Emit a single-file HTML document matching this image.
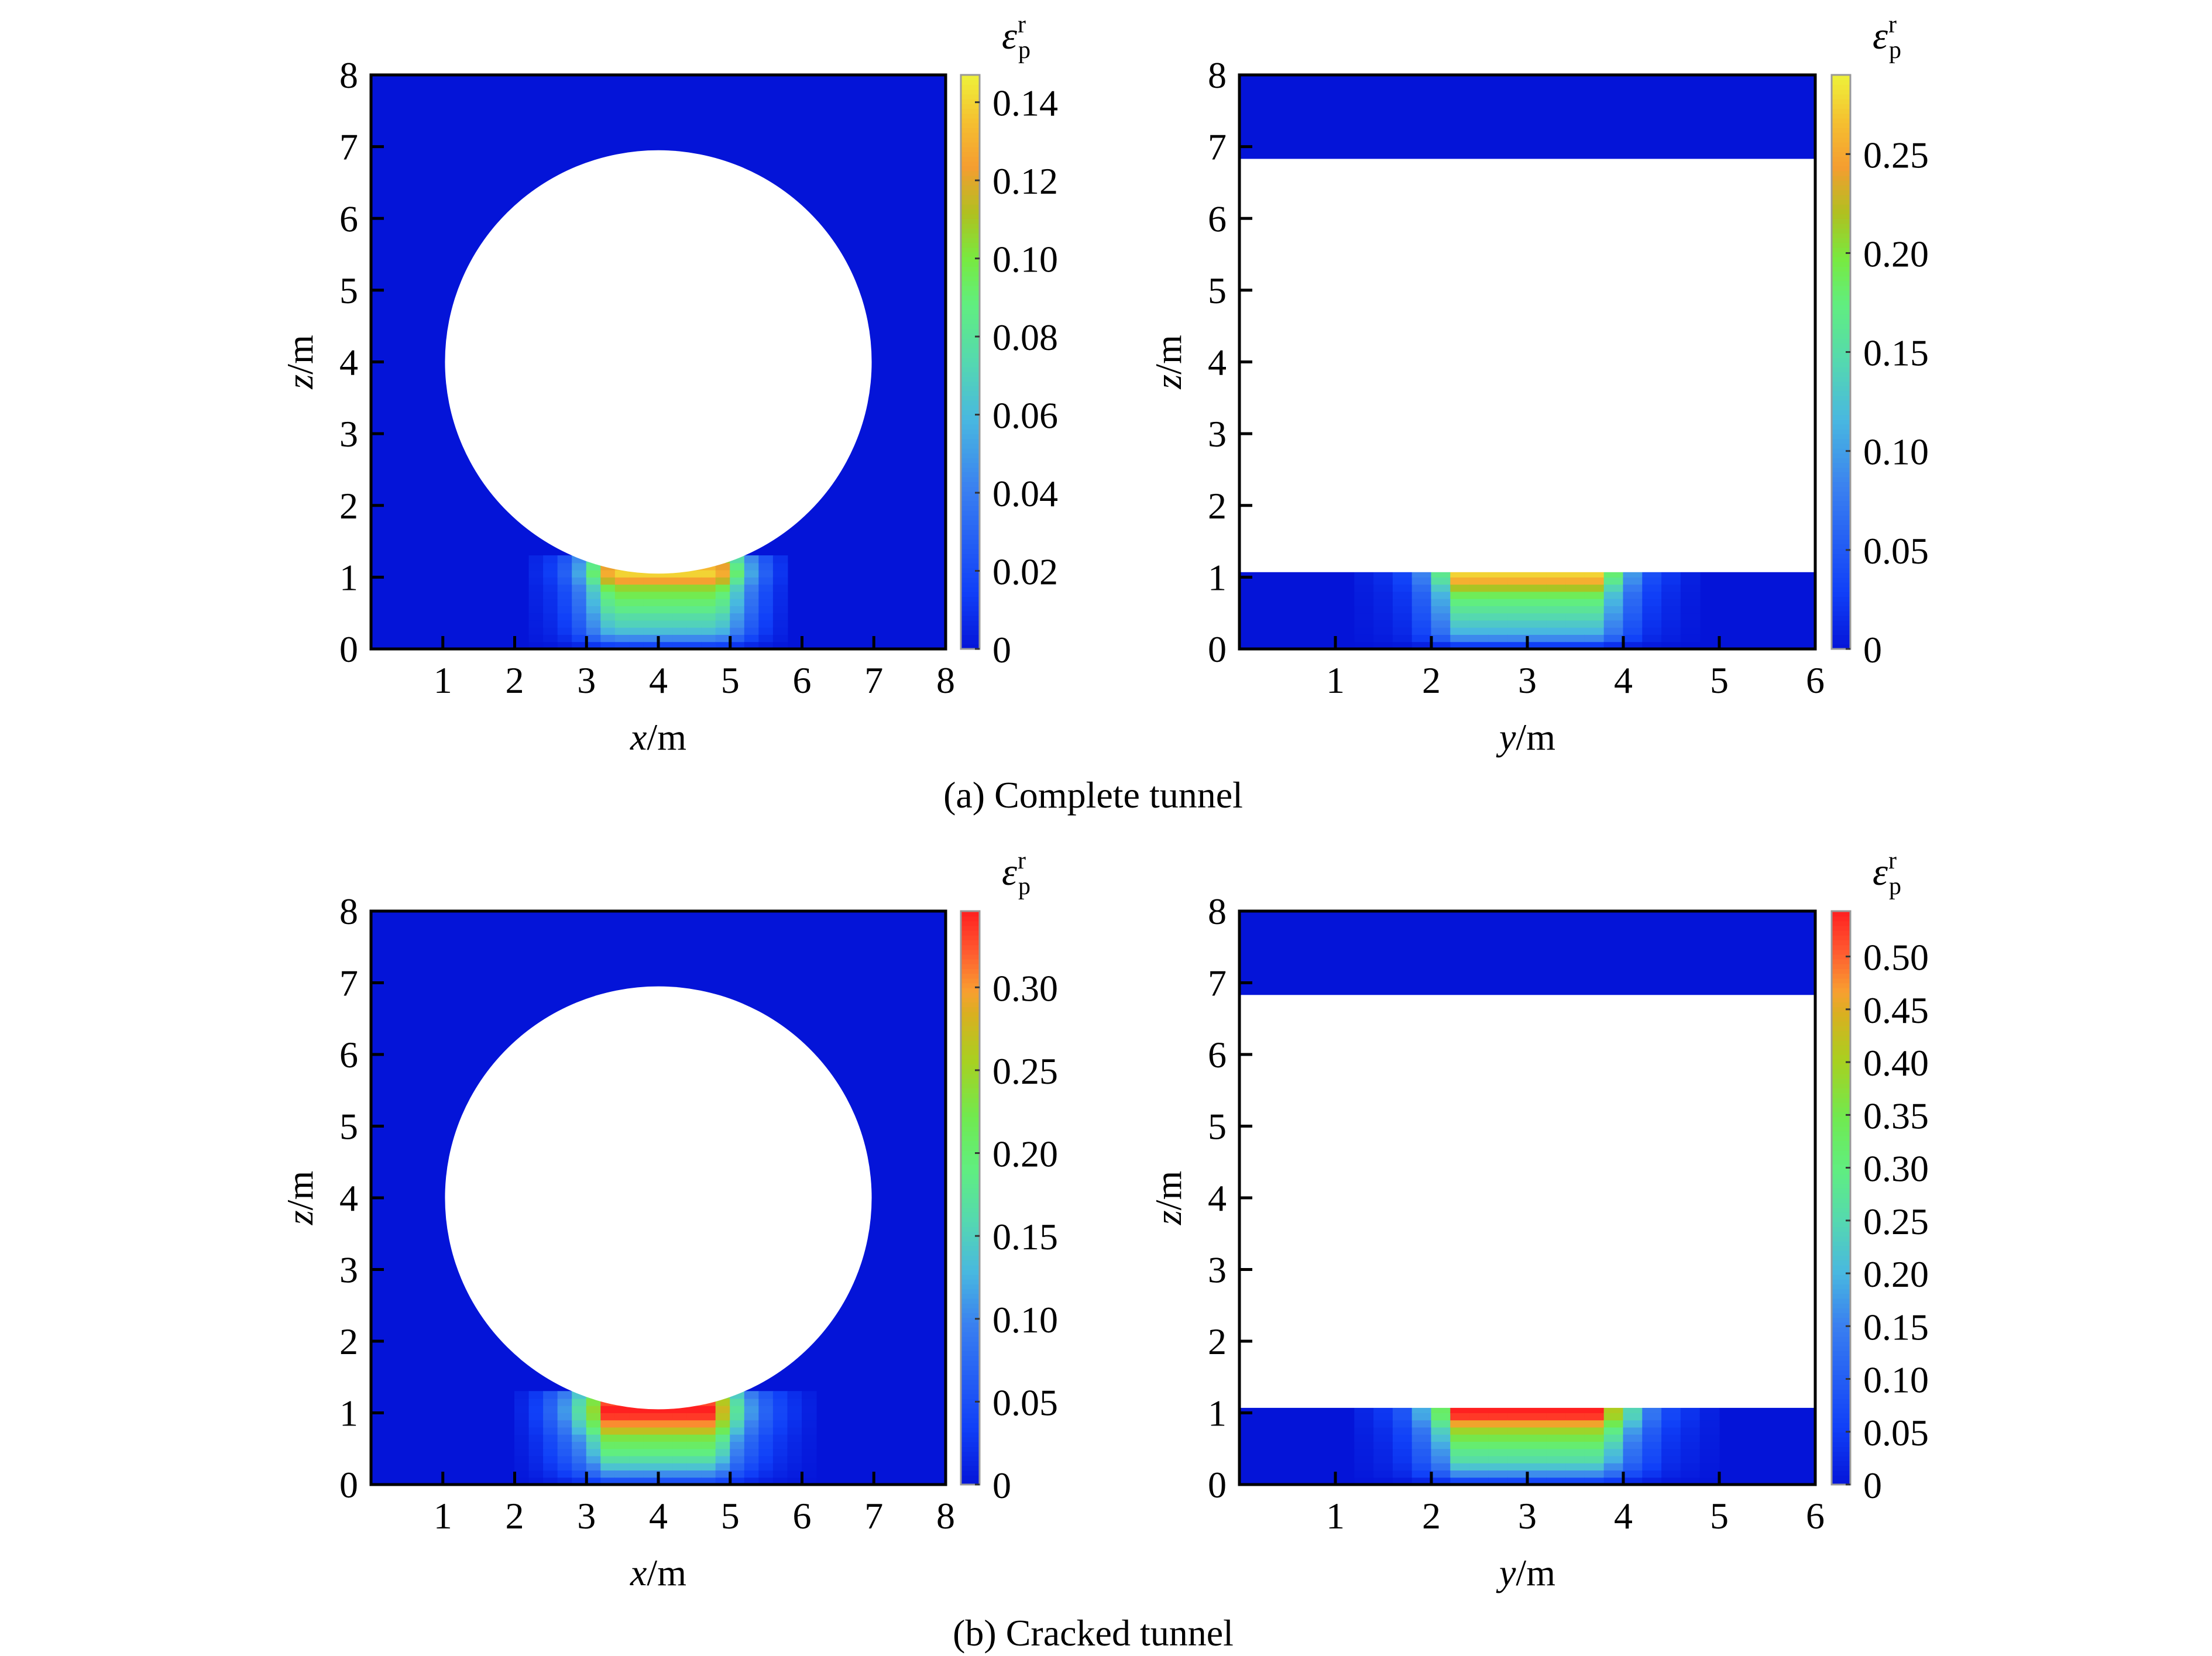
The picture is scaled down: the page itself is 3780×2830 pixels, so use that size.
<!DOCTYPE html>
<html><head><meta charset="utf-8">
<style>
html,body{margin:0;padding:0;background:#fff;}
svg{display:block;font-family:"Liberation Serif",serif;}
</style></head>
<body>
<svg id="fig" width="3780" height="2830" viewBox="0 0 3780 2830" xmlns="http://www.w3.org/2000/svg">
<text x="1868" y="1380" font-size="64" text-anchor="middle">(a) Complete tunnel</text>
<text x="1868" y="2812" font-size="64" text-anchor="middle">(b) Cracked tunnel</text>
</svg>
<script>
// ---- data ----
const xTicksLeft = [1,2,3,4,5,6,7,8];
const xTicksRight = [1,2,3,4,5,6];
const zTicks = [0,1,2,3,4,5,6,7,8];
const cbTicksA1 = ["0","0.02","0.04","0.06","0.08","0.10","0.12","0.14"];
const cbValsA1 = [0,0.02,0.04,0.06,0.08,0.10,0.12,0.14];
const cbTicksA2 = ["0","0.05","0.10","0.15","0.20","0.25"];
const cbValsA2 = [0,0.05,0.10,0.15,0.20,0.25];
const cbTicksB1 = ["0","0.05","0.10","0.15","0.20","0.25","0.30"];
const cbValsB1 = [0,0.05,0.10,0.15,0.20,0.25,0.30];
const cbTicksB2 = ["0","0.05","0.10","0.15","0.20","0.25","0.30","0.35","0.40","0.45","0.50"];
const cbValsB2 = [0,0.05,0.10,0.15,0.20,0.25,0.30,0.35,0.40,0.45,0.50];
const maxA1 = 0.147, maxA2 = 0.29, maxB1 = 0.346, maxB2 = 0.543;
// heatmap cell column positions (m) and profiles
const colXA1 = [2.2,2.4,2.6,2.8,3.0,3.2,3.4,3.6,3.8,4.0,4.2,4.4,4.6,4.8,5.0,5.2,5.4,5.6];
const colFA1 = [0.05,0.1,0.2,0.38,0.65,0.92,1,1,1,1,1,1,1,0.92,0.65,0.38,0.2,0.08];
const rowFA1 = [0.12,0.3,0.42,0.48,0.52,0.58,0.62,0.66,0.72,0.85,0.95,0.9,0.8];
const colXB1 = [2.0,2.2,2.4,2.6,2.8,3.0,3.2,3.4,3.6,3.8,4.0,4.2,4.4,4.6,4.8,5.0,5.2,5.4,5.6,5.8,6.0];
const colFB1 = [0.04,0.1,0.2,0.32,0.48,0.7,1,1,1,1,1,1,1,1,0.8,0.5,0.32,0.2,0.12,0.07,0.03];
const rowFB1 = [0.15,0.3,0.4,0.48,0.55,0.6,0.66,0.78,0.88,0.97,1,0.95,0.85];
const colXA2 = [1.2,1.4,1.6,1.8,2.0,2.2,2.4,2.6,2.8,3.0,3.2,3.4,3.6,3.8,4.0,4.2,4.4,4.6];
const colFA2 = [0.03,0.06,0.12,0.3,0.6,1,1,1,1,1,1,1,1,0.65,0.35,0.15,0.08,0.03];
const rowFA2 = [0.1,0.3,0.4,0.45,0.5,0.55,0.6,0.65,0.75,0.88,0.95];
const colXB2 = [1.2,1.4,1.6,1.8,2.0,2.2,2.4,2.6,2.8,3.0,3.2,3.4,3.6,3.8,4.0,4.2,4.4,4.6,4.8];
const colFB2 = [0.04,0.08,0.16,0.35,0.6,1,1,1,1,1,1,1,1,0.75,0.45,0.25,0.12,0.07,0.03];
const rowFB2 = [0.12,0.3,0.4,0.48,0.52,0.58,0.65,0.72,0.85,0.97,1];
// ---- colormaps (style) ----
const cmapY = [[0,"#0414d8"],[0.1,"#1040f8"],[0.28,"#3a80f0"],[0.4,"#48b8e0"],[0.5,"#55d8b0"],[0.6,"#60ee80"],[0.68,"#78ea40"],[0.76,"#b0c020"],[0.84,"#f59d30"],[0.92,"#f5c030"],[1,"#eef23a"]];
const cmapR = [[0,"#0414d8"],[0.1,"#1040f8"],[0.28,"#3a80f0"],[0.37,"#48b8e0"],[0.46,"#55d8b0"],[0.55,"#60ee80"],[0.64,"#70ea50"],[0.74,"#a8d020"],[0.82,"#d8b020"],[0.86,"#f8a030"],[0.93,"#ff5a30"],[1,"#ff2020"]];
function hex(c){return [parseInt(c.substr(1,2),16),parseInt(c.substr(3,2),16),parseInt(c.substr(5,2),16)];}
function cmap(m,t){t=Math.max(0,Math.min(1,t));for(let i=1;i<m.length;i++){if(t<=m[i][0]){const a=m[i-1],b=m[i];const f=(t-a[0])/(b[0]-a[0]);const A=hex(a[1]),B=hex(b[1]);return "rgb("+A.map((v,k)=>Math.round(v+(B[k]-v)*f)).join(",")+")";}}return m[m.length-1][1];}
const NS="http://www.w3.org/2000/svg";
const svg=document.getElementById('fig');
function el(tag,attrs,parent){const e=document.createElementNS(NS,tag);for(const k in attrs)e.setAttribute(k,attrs[k]);(parent||svg).appendChild(e);return e;}

function panel(o){
  const g=el('g',{});
  
  
  const L=o.x0,R=o.x1,T=o.y0,B=o.y1;
  const sx=v=>L+(R-L)*v/o.xmax, sz=v=>B-(B-T)*v/8;
  const bg=el('rect',{x:L,y:T,width:R-L,height:B-T,fill:"#0414d8"},g);
  
  
  const dx=0.2, dz=0.1;
  for(let i=0;i<o.colX.length;i++){
    for(let j=0;j<o.rowF.length;j++){
      const t=o.colF[i]*o.rowF[j];
      const c=el('rect',{x:sx(o.colX[i])-0.5,y:sz((j+1)*dz)-0.5,width:sx(dx)-L+1,height:sz(0)-sz(dz)+1,fill:cmap(o.cm,t)},g);
      
      
    }
  }
  if(o.circle){
    const c=el('ellipse',{cx:sx(4),cy:sz(4),rx:sx(2.97)-L,ry:sz(0)-sz(2.95),fill:"#fff"},g);
    
    
  } else {
    const c=el('rect',{x:L,y:sz(6.83),width:R-L,height:sz(1.07)-sz(6.83),fill:"#fff"},g);
    
    
  }
  const fr=el('rect',{x:L,y:T,width:R-L,height:B-T,fill:"none",stroke:"#000","stroke-width":5},g);
  
  
  o.xt.forEach(v=>{
    const tk=el('line',{x1:sx(v),x2:sx(v),y1:B,y2:B-22,stroke:"#000","stroke-width":5},g);
    
    
    const tl=el('text',{x:sx(v),y:B+75,"font-size":64,"text-anchor":"middle"},g);
    tl.textContent=v;
    
    
  });
  zTicks.forEach(v=>{
    const tk=el('line',{x1:L,x2:L+22,y1:sz(v),y2:sz(v),stroke:"#000","stroke-width":5},g);
    
    
    const tl=el('text',{x:L-22,y:sz(v)+22,"font-size":64,"text-anchor":"end"},g);
    tl.textContent=v;
    
    
  });
  const xl=el('text',{x:(L+R)/2,y:B+172,"font-size":64,"text-anchor":"middle"},g);
  xl.innerHTML='<tspan font-style="italic">'+o.xlab+'</tspan>/m';
  
  
  const zl=el('text',{x:0,y:0,"font-size":64,"text-anchor":"middle",transform:"translate("+(L-100)+","+((T+B)/2)+") rotate(-90)"},g);
  zl.innerHTML='<tspan font-style="italic">z</tspan>/m';
  
  
  const cx=o.cbx, cw=32;
  const cg=el('g',{},g);
  
  
  const N=120;
  for(let k=0;k<N;k++){
    const s=el('rect',{x:cx,y:T+(B-T)*(1-(k+1)/N),width:cw,height:(B-T)/N+1,fill:cmap(o.cm,(k+0.5)/N)},cg);
    
    
  }
  el('rect',{x:cx,y:T,width:cw,height:B-T,fill:"none",stroke:"#999","stroke-width":3},cg);
  o.cbv.forEach((v,i)=>{
    const yy=B-(B-T)*v/o.max;
    const tk=el('line',{x1:cx+cw-8,x2:cx+cw,y1:yy,y2:yy,stroke:"#333","stroke-width":3},cg);
    
    
    const tl=el('text',{x:cx+54,y:yy+23,"font-size":64},cg);
    tl.textContent=o.cbt[i];
    
    
  });
  const ep=el('text',{x:cx+70,y:T-45,"font-size":66},g);
  ep.innerHTML='<tspan font-style="italic">ε</tspan><tspan font-size="42" dx="2" dy="16">p</tspan><tspan font-size="42" dx="-22" dy="-44">r</tspan>';
  
  
}
panel({name:'panel-a-cross-section',x0:634,x1:1616,y0:128,y1:1109,xmax:8,xt:xTicksLeft,xlab:'x',circle:true,cm:cmapY,max:maxA1,cbv:cbValsA1,cbt:cbTicksA1,cbx:1642,colX:colXA1,colF:colFA1,rowF:rowFA1});
panel({name:'panel-a-longitudinal',x0:2118,x1:3102,y0:128,y1:1109,xmax:6,xt:xTicksRight,xlab:'y',circle:false,cm:cmapY,max:maxA2,cbv:cbValsA2,cbt:cbTicksA2,cbx:3130,colX:colXA2,colF:colFA2,rowF:rowFA2});
panel({name:'panel-b-cross-section',x0:634,x1:1616,y0:1557,y1:2537,xmax:8,xt:xTicksLeft,xlab:'x',circle:true,cm:cmapR,max:maxB1,cbv:cbValsB1,cbt:cbTicksB1,cbx:1642,colX:colXB1,colF:colFB1,rowF:rowFB1});
panel({name:'panel-b-longitudinal',x0:2118,x1:3102,y0:1557,y1:2537,xmax:6,xt:xTicksRight,xlab:'y',circle:false,cm:cmapR,max:maxB2,cbv:cbValsB2,cbt:cbTicksB2,cbx:3130,colX:colXB2,colF:colFB2,rowF:rowFB2});
</script>
</body></html>
